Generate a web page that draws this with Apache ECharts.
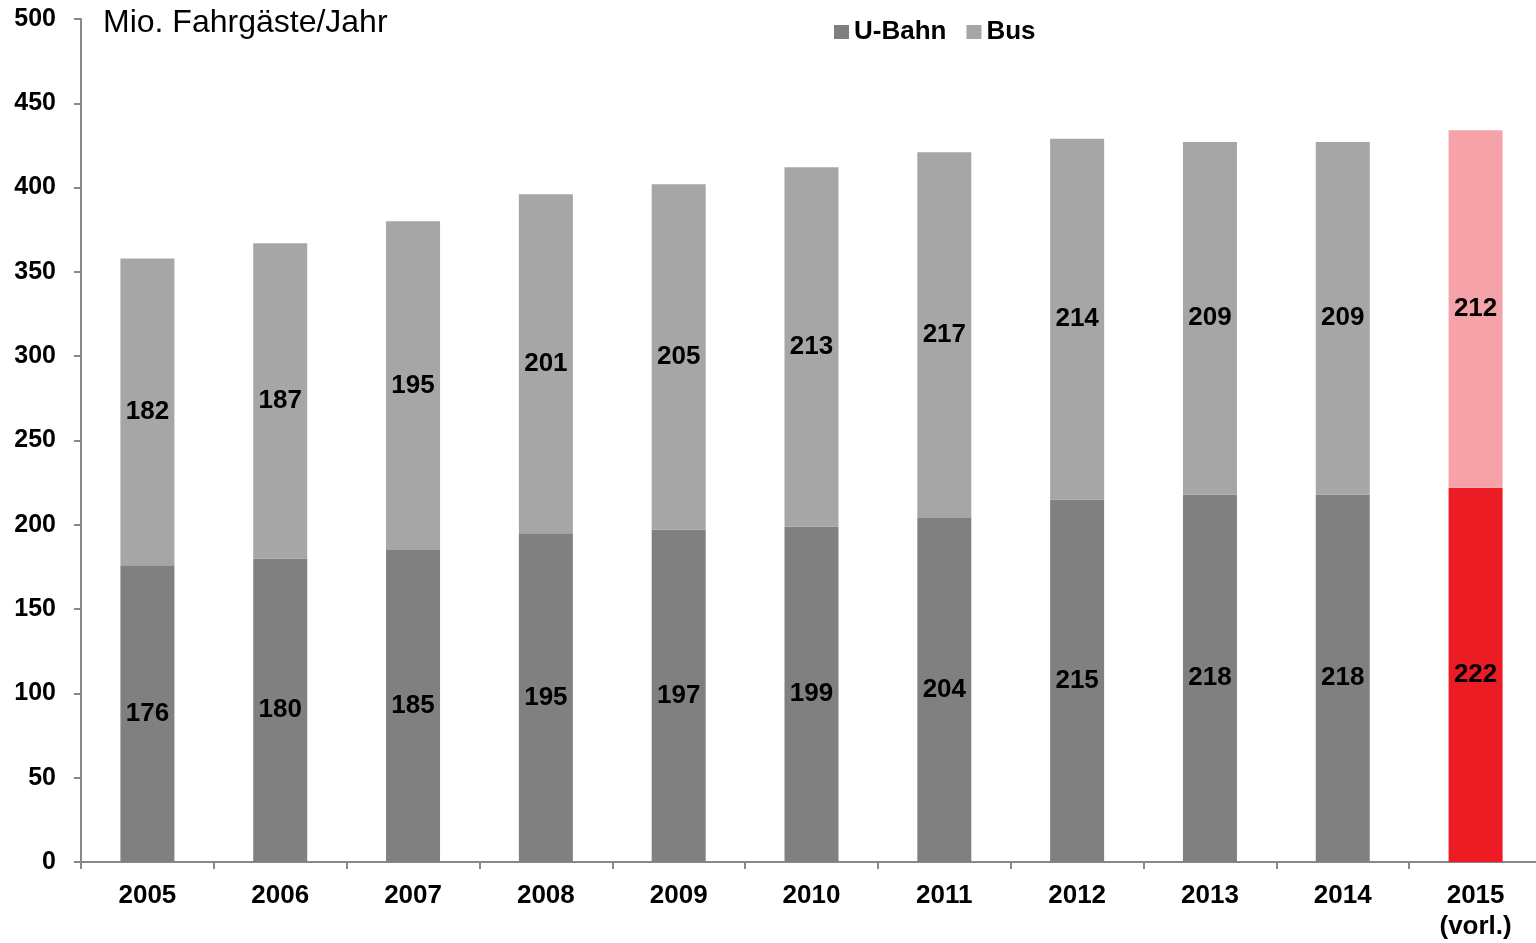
<!DOCTYPE html>
<html>
<head>
<meta charset="utf-8">
<script src="https://cdn.jsdelivr.net/npm/echarts@6/dist/echarts.min.js"></script>
<style>html,body{margin:0;padding:0;background:#fff;overflow:hidden}#c{width:1545px;height:943px}</style>
</head>
<body>
<div id="c"></div>
<script>
const categories = ['2005','2006','2007','2008','2009','2010','2011','2012','2013','2014','2015\n(vorl.)'];
const uBahn = [176,180,185,195,197,199,204,215,218,218,222];
const bus = [182,187,195,201,205,213,217,214,209,209,212];
const highlightIndex = 10;

const FONT = '"Liberation Sans", Arial, Helvetica, sans-serif';
const colU = '#808080', colB = '#a6a6a6', colUh = '#ed1c24', colBh = '#f5a3a8';

function build(arr, base, hi) {
  return arr.map((v, i) => i === highlightIndex ? { value: v, itemStyle: { color: hi } } : { value: v, itemStyle: { color: base } });
}
const labelStyle = { show: true, position: 'inside', color: '#000', fontWeight: 'bold', fontSize: 26, fontFamily: FONT };

const chart = echarts.init(document.getElementById('c'), null, { renderer: 'canvas' });
chart.setOption({
  animation: false,
  backgroundColor: '#fff',
  title: {
    text: 'Mio. Fahrgäste/Jahr', left: 98, top: 2,
    textStyle: { fontSize: 32, fontWeight: 'normal', color: '#000', fontFamily: FONT }
  },
  legend: {
    left: 829, top: 14, itemWidth: 15, itemHeight: 14, itemGap: 20,
    icon: 'rect',
    textStyle: { fontSize: 26, fontWeight: 'bold', color: '#000', fontFamily: FONT },
    data: [{ name: 'U-Bahn', itemStyle: { color: colU } }, { name: 'Bus', itemStyle: { color: colB } }]
  },
  grid: { left: 81, right: 3, top: 19, bottom: 81, containLabel: false },
  xAxis: {
    type: 'category', data: categories,
    axisLine: { lineStyle: { color: '#888', width: 2 } },
    axisTick: { show: true, length: 7, lineStyle: { color: '#888', width: 2 } },
    axisLabel: { color: '#000', fontWeight: 'bold', fontSize: 26, fontFamily: FONT, margin: 18, lineHeight: 31, interval: 0 }
  },
  yAxis: {
    type: 'value', min: 0, max: 500, interval: 50,
    splitLine: { show: false },
    axisLine: { show: true, lineStyle: { color: '#888', width: 2 } },
    axisTick: { show: true, length: 7, lineStyle: { color: '#888', width: 2 } },
    axisLabel: { color: '#000', fontWeight: 'bold', fontSize: 25, fontFamily: FONT, margin: 25 }
  },
  series: [
    { name: 'U-Bahn', type: 'bar', stack: 'a', barWidth: 54, data: build(uBahn, colU, colUh), itemStyle: { color: colU }, label: labelStyle },
    { name: 'Bus', type: 'bar', stack: 'a', barWidth: 54, data: build(bus, colB, colBh), itemStyle: { color: colB }, label: labelStyle }
  ]
});
</script>
</body>
</html>
